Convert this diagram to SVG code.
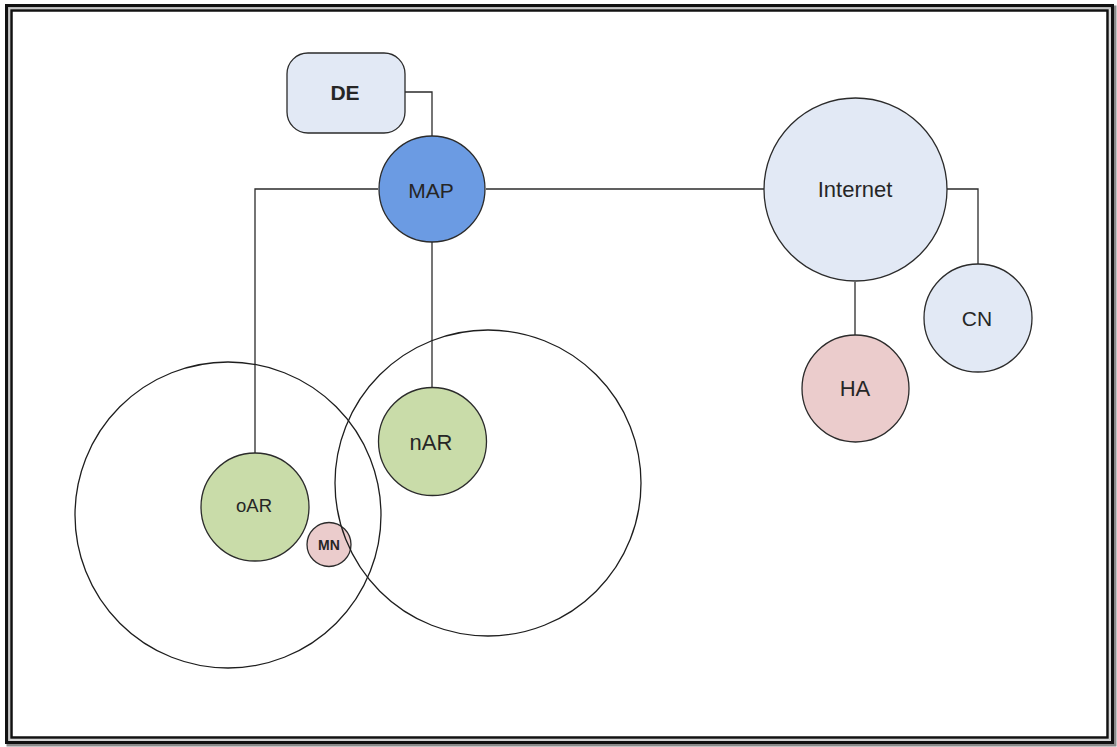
<svg xmlns="http://www.w3.org/2000/svg" width="1117" height="747" viewBox="0 0 1117 747">
  <style>
    .node { stroke: #2b2b2b; stroke-width: 1.3; }
    .zone { fill: none; stroke: #1e1e1e; stroke-width: 1.3; }
    .wire { fill: none; stroke: #2b2b2b; stroke-width: 1.3; }
    .blue { fill: #e2e9f5; }
    .map { fill: #6b9be3; }
    .green { fill: #c9dca9; }
    .pink { fill: #ebcccc; }
    .label { font-family: "Liberation Sans", Arial, sans-serif; fill: #262626; text-anchor: middle; }
    .bold { font-weight: bold; }
  </style>

  <!-- page background and double frame with shadow -->
  <rect x="0" y="0" width="1117" height="747" fill="#ffffff"/>
  <rect x="8" y="7" width="1107" height="738" fill="none" stroke="#8a8a8a" stroke-width="3"/>
  <rect x="6.5" y="5.5" width="1106" height="737" fill="none" stroke="#111" stroke-width="3"/>
  <rect x="9" y="8" width="1101" height="732" fill="none" stroke="#c8c8c8" stroke-width="1.5"/>
  <rect x="11.5" y="10.5" width="1096" height="727" fill="#ffffff" stroke="#111" stroke-width="2.5"/>

  <!-- connectors -->
  <g id="connectors">
    <polyline class="wire" points="405,92 432,92 432,137"/>
    <polyline class="wire" points="378,189 255,189 255,453"/>
    <line class="wire" x1="486" y1="189" x2="764" y2="189"/>
    <line class="wire" x1="432" y1="242" x2="432" y2="387"/>
    <polyline class="wire" points="947,189 978,189 978,264"/>
    <line class="wire" x1="855" y1="282" x2="855" y2="335"/>
  </g>

  <g id="DE">
    <rect class="node blue" x="287" y="53" width="118" height="80" rx="21" ry="21"/>
    <text class="label bold" x="345" y="100" font-size="21">DE</text>
  </g>

  <g id="MAP">
    <circle class="node map" cx="432" cy="189" r="53"/>
    <text class="label" x="431" y="197.5" font-size="21">MAP</text>
  </g>

  <g id="Internet">
    <circle class="node blue" cx="855.5" cy="189.5" r="91.5"/>
    <text class="label" x="855" y="197" font-size="22">Internet</text>
  </g>

  <g id="CN">
    <circle class="node blue" cx="978" cy="318" r="54"/>
    <text class="label" x="977" y="325.5" font-size="21">CN</text>
  </g>

  <g id="HA">
    <circle class="node pink" cx="855.5" cy="388.5" r="53.5"/>
    <text class="label" x="855" y="396" font-size="22">HA</text>
  </g>

  <g id="nAR">
    <circle class="node green" cx="432.5" cy="441.5" r="54"/>
    <text class="label" x="431" y="449.5" font-size="22">nAR</text>
  </g>

  <g id="oAR">
    <circle class="node green" cx="255" cy="507" r="54"/>
    <text class="label" x="254" y="512" font-size="18.5">oAR</text>
  </g>

  <g id="MN">
    <circle class="node pink" cx="329" cy="544.5" r="22"/>
    <text class="label bold" x="329" y="549.5" font-size="14">MN</text>
  </g>

  <!-- coverage areas of the two access routers -->
  <g id="oAR-coverage">
    <circle class="zone" cx="228" cy="515" r="153"/>
  </g>
  <g id="nAR-coverage">
    <circle class="zone" cx="488" cy="483" r="153"/>
  </g>
</svg>
